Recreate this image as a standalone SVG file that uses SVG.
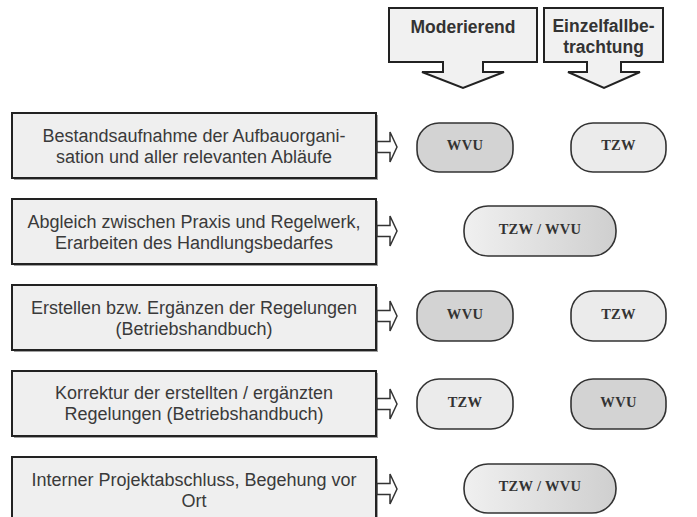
<svg xmlns="http://www.w3.org/2000/svg" width="697" height="517" viewBox="0 0 697 517">
<style>
.step{fill:#efefef;stroke:#222;stroke-width:2}
.shadow{fill:#a0a0a0}
.stxt{font-family:"Liberation Sans",Arial,sans-serif;font-size:18px;fill:#3a3a3a;text-anchor:middle}
.htxt{font-family:"Liberation Sans",Arial,sans-serif;font-size:17.5px;font-weight:bold;fill:#333;text-anchor:middle}
.hdr{fill:#f1f1f1;stroke:#222;stroke-width:2;stroke-linejoin:miter}
.arr{fill:#fff;stroke:#333;stroke-width:1.5;stroke-linejoin:miter}
.pill{stroke:#333;stroke-width:1.6}
.wvu{fill:#d3d3d3}
.tzw{fill:#ebebeb}
.both{fill:url(#g)}
.ptxt{font-family:"Liberation Serif","Times New Roman",serif;font-size:14.5px;font-weight:bold;fill:#333;text-anchor:middle;letter-spacing:0.3px}
</style>
<defs>
<linearGradient id="g" x1="0" y1="0" x2="1" y2="0">
<stop offset="0" stop-color="#f0f0f0"/>
<stop offset="1" stop-color="#cfcfcf"/>
</linearGradient>
</defs>
<rect width="697" height="517" fill="#fff"/>

<g id="hdr-moderierend">
<path class="hdr" d="M389,8 H537 V62 H483 V72 H504 L463,88 L422,72 H443 V62 H389 Z"/>
<text class="htxt" x="463" y="33">Moderierend</text>
</g>
<g id="hdr-einzelfall">
<path class="hdr" d="M544,8 H663 V62 H621 V72 H640 L604,88 L568,72 H587 V62 H544 Z"/>
<text class="htxt" x="603.5" y="32">Einzelfallbe-</text>
<text class="htxt" x="603.5" y="53">trachtung</text>
</g>

<g id="step1">
<rect class="shadow" x="14" y="115" width="364" height="65"/>
<rect class="step" x="12" y="113" width="364" height="65"/>
<text class="stxt" x="194" y="142">Bestandsaufnahme der Aufbauorgani-</text>
<text class="stxt" x="194" y="163">sation und aller relevanten Abläufe</text>
</g>
<g id="step2">
<rect class="shadow" x="14" y="201" width="364" height="65"/>
<rect class="step" x="12" y="199" width="364" height="65"/>
<text class="stxt" x="194" y="228">Abgleich zwischen Praxis und Regelwerk,</text>
<text class="stxt" x="194" y="249">Erarbeiten des Handlungsbedarfes</text>
</g>
<g id="step3">
<rect class="shadow" x="14" y="287" width="364" height="65"/>
<rect class="step" x="12" y="285" width="364" height="65"/>
<text class="stxt" x="194" y="313.5">Erstellen bzw. Ergänzen der Regelungen</text>
<text class="stxt" x="194" y="334.5">(Betriebshandbuch)</text>
</g>
<g id="step4">
<rect class="shadow" x="14" y="373" width="364" height="65"/>
<rect class="step" x="12" y="371" width="364" height="65"/>
<text class="stxt" x="194" y="399">Korrektur der erstellten / ergänzten</text>
<text class="stxt" x="194" y="420">Regelungen (Betriebshandbuch)</text>
</g>
<g id="step5">
<rect class="shadow" x="14" y="459" width="364" height="70"/>
<rect class="step" x="12" y="457" width="364" height="70"/>
<text class="stxt" x="194" y="485.5">Interner Projektabschluss, Begehung vor</text>
<text class="stxt" x="194" y="506.5">Ort</text>
</g>

<g id="connectors">
<path class="arr" d="M377,141.5 H390 V132 L397,147 L390,162 V152.5 H377 Z"/>
<path class="arr" d="M377,225.5 H390 V216 L397,231 L390,246 V236.5 H377 Z"/>
<path class="arr" d="M377,310.5 H390 V301 L397,316 L390,331 V321.5 H377 Z"/>
<path class="arr" d="M377,398.5 H390 V389 L397,404 L390,419 V409.5 H377 Z"/>
<path class="arr" d="M377,483.5 H390 V474 L397,489 L390,504 V494.5 H377 Z"/>
</g>

<g id="r1-wvu"><rect class="pill wvu" x="417" y="123" width="96" height="49" rx="22" ry="22"/><text class="ptxt" x="465" y="149.5">WVU</text></g>
<g id="r1-tzw"><rect class="pill tzw" x="571" y="123" width="95" height="49" rx="22" ry="22"/><text class="ptxt" x="618.5" y="149.5">TZW</text></g>
<g id="r2-both"><rect class="pill both" x="464" y="206" width="152" height="50" rx="24" ry="24"/><text class="ptxt" x="540" y="233.5">TZW / WVU</text></g>
<g id="r3-wvu"><rect class="pill wvu" x="417" y="291" width="96" height="50" rx="22" ry="22"/><text class="ptxt" x="465" y="318.5">WVU</text></g>
<g id="r3-tzw"><rect class="pill tzw" x="571" y="291" width="95" height="50" rx="22" ry="22"/><text class="ptxt" x="618.5" y="318.5">TZW</text></g>
<g id="r4-tzw"><rect class="pill tzw" x="417" y="379" width="96" height="50" rx="22" ry="22"/><text class="ptxt" x="465" y="406.5">TZW</text></g>
<g id="r4-wvu"><rect class="pill wvu" x="571" y="379" width="95" height="50" rx="22" ry="22"/><text class="ptxt" x="618.5" y="406.5">WVU</text></g>
<g id="r5-both"><rect class="pill both" x="464" y="464" width="152" height="49" rx="24" ry="24"/><text class="ptxt" x="540" y="491">TZW / WVU</text></g>
</svg>
